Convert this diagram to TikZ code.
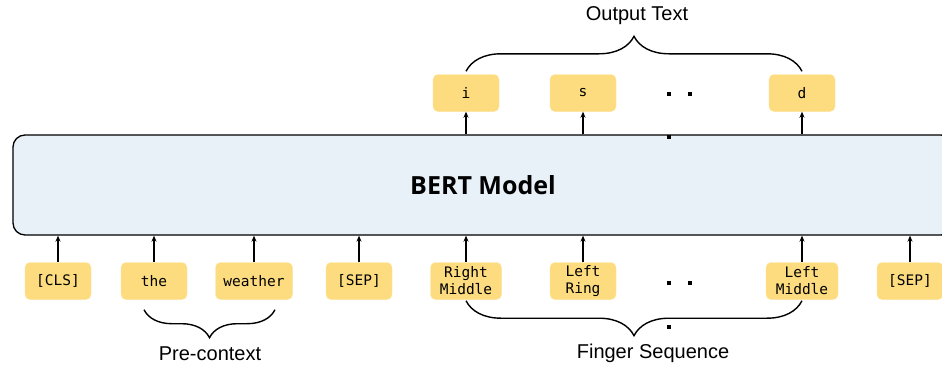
\documentclass[tikz,border=0pt]{standalone}
\usepackage{fontspec}
\setmainfont{Liberation Sans}
\setmonofont{DejaVu Sans Mono}
\newfontfamily\bertfont{Open Sans}
\usepackage{xcolor}
\usetikzlibrary{arrows.meta,positioning,calc,decorations.pathreplacing}

\definecolor{tokyellow}{HTML}{FDDC7F}
\definecolor{bertblue}{HTML}{E8F0F8}

\begin{document}
\begin{tikzpicture}[
  x=1pt, y=1pt,
  token/.style={fill=tokyellow, draw=tokyellow!80!white, rounded corners=5pt,
    minimum width=66pt, minimum height=37pt, inner sep=2pt, align=center,
    font=\fontsize{14.5}{17}\selectfont\ttfamily},
  model/.style={draw, line width=1.3pt, fill=bertblue, rounded corners=12pt,
    minimum width=940pt, minimum height=100pt,
    font=\fontsize{25}{30}\selectfont\bertfont\bfseries},
  brace/.style={decorate, line width=1.4pt,
    decoration={brace, amplitude=#1}},
  label/.style={font=\fontsize{20}{24}\selectfont},
  dot/.style={fill, inner sep=0pt, minimum size=3.5pt},
  >={Stealth[length=6pt, width=5pt]},
]
\useasboundingbox (0,0) rectangle (942,-367);

\node[model] (bert) at (483,-185) {BERT Model};

% inputs
\node[token] (cls) at (58,-281) {[CLS]};
\node[token] (the) at (154,-281) {the};
\node[token, minimum width=77pt] (weather) at (254,-281) {weather};
\node[token] (sep1) at (359,-281) {[SEP]};
\node[token, minimum width=71pt] (rmid) at (466,-281) {Right\\Middle};
\node[token] (lring) at (583,-281) {Left\\Ring};
\node[token, minimum width=72pt] (lmid) at (802,-281) {Left\\Middle};
\node[token] (sep2) at (910,-281) {[SEP]};

% outputs
\node[token] (outi) at (466,-93) {i};
\node[token] (outs) at (583,-93) {s};
\node[token] (outd) at (802,-93) {d};

% dots
\node[dot] (od1) at (669,-94) {};
\node[dot] (od2) at (690,-94) {};
\node[dot] (od3) at (669,-137) {};
\node[dot] (id1) at (669,-283) {};
\node[dot] (id2) at (690,-283) {};
\node[dot] (id3) at (669,-327) {};

\foreach \t in {cls,the,weather,sep1,rmid,lring,lmid,sep2}
  \draw[->, line width=1.3pt] (\t.north) -- (\t |- bert.south);
\foreach \t in {outi,outs,outd}
  \draw[->, line width=1.3pt] (\t |- bert.north) -- (\t.south);

% braces
\coordinate (pcl) at ($(the.south)+(-10,-10)$);
\coordinate (pcr) at ($(weather.south)+(21,-10)$);
\draw[brace=28pt] (pcr) -- (pcl);
\draw[brace=35pt] ($(lmid.south)+(0,-1)$) -- ($(rmid.south)+(0,-1)$);
\draw[brace=35pt] ($(outi.north)+(0,3)$) -- ($(outd.north)+(0,3)$);

\node[label] (pre) at (210,-354) {Pre-context};
\node[label] (fing) at (653,-353) {Finger Sequence};
\node[label] (outtxt) at (637,-16) {Output Text};
\end{tikzpicture}
\end{document}
